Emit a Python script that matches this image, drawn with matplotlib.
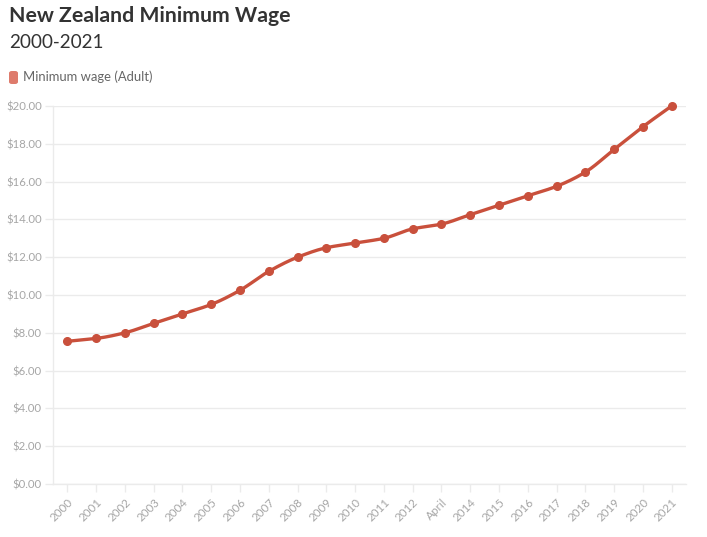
import numpy as np
import matplotlib
matplotlib.use("Agg")
import matplotlib.pyplot as plt
from matplotlib.patches import FancyBboxPatch

categories = ["2000", "2001", "2002", "2003", "2004", "2005", "2006", "2007", "2008", "2009",
              "2010", "2011", "2012", "April", "2014", "2015", "2016", "2017", "2018", "2019",
              "2020", "2021"]
wage = [7.55, 7.70, 8.00, 8.50, 9.00, 9.50, 10.25, 11.25, 12.00, 12.50,
        12.75, 13.00, 13.50, 13.75, 14.25, 14.75, 15.25, 15.75, 16.50, 17.70,
        18.90, 20.00]
y_ticks = [0, 2, 4, 6, 8, 10, 12, 14, 16, 18, 20]
series_name = "Minimum wage (Adult)"
title = "New Zealand Minimum Wage"
subtitle = "2000-2021"

plt.rcParams['font.family'] = ['Lato', 'DejaVu Sans']

LINE = "#c9503c"
SWATCH = "#de7b6c"
GRID = "#ebebeb"
TICKTXT = "#a6a6a6"


def monotone_curve(x, y, n=20):
    x = np.asarray(x, float)
    y = np.asarray(y, float)
    h = np.diff(x)
    d = np.diff(y) / h
    m = np.zeros_like(y)
    m[0] = d[0]
    m[-1] = d[-1]
    for i in range(1, len(y) - 1):
        if d[i - 1] * d[i] <= 0:
            m[i] = 0
        else:
            m[i] = 3 * (h[i - 1] + h[i]) / ((2 * h[i] + h[i - 1]) / d[i - 1] + (h[i] + 2 * h[i - 1]) / d[i])
    xs, ys = [], []
    for i in range(len(x) - 1):
        t = np.linspace(0, 1, n, endpoint=(i == len(x) - 2))
        h00 = 2 * t**3 - 3 * t**2 + 1
        h10 = t**3 - 2 * t**2 + t
        h01 = -2 * t**3 + 3 * t**2
        h11 = t**3 - t**2
        xs.append(x[i] + t * h[i])
        ys.append(h00 * y[i] + h10 * h[i] * m[i] + h01 * y[i + 1] + h11 * h[i] * m[i + 1])
    return np.concatenate(xs), np.concatenate(ys)


fig = plt.figure(figsize=(7.07, 5.37), dpi=100)
ax = fig.add_axes([53 / 707, 1 - 484 / 537, (686 - 53) / 707, (484 - 106) / 537])

xpos = np.arange(len(categories))
cx, cy = monotone_curve(xpos, wage)
ax.plot(cx, cy, color=LINE, lw=2.4, solid_capstyle='round', zorder=3, clip_on=False)
ax.plot(xpos, wage, 'o', color=LINE, ms=5.5, zorder=4, clip_on=False)

ax.set_xlim(-0.5, len(categories) - 0.5)
ax.set_ylim(0, 20)
ax.set_yticks(y_ticks)
ax.set_yticklabels([f"${v:.2f}" for v in y_ticks])
ax.set_xticks(xpos)
ax.set_xticklabels(categories, rotation=45, ha='right', rotation_mode='anchor')

ax.grid(axis='y', color=GRID, lw=1)
ax.set_axisbelow(True)
for s in ['top', 'right']:
    ax.spines[s].set_visible(False)
for s in ['left', 'bottom']:
    ax.spines[s].set_color(GRID)
    ax.spines[s].set_linewidth(1)
ax.tick_params(axis='y', colors=GRID, length=6, width=1, pad=2, labelsize=8.2, labelcolor=TICKTXT)
ax.tick_params(axis='x', colors=GRID, length=6, width=1, pad=3, labelsize=8.4, labelcolor=TICKTXT)

fig.text(9 / 707, 1 - 16 / 537, title, fontsize=15.3, fontweight='bold', color='#333333', va='center', ha='left')
fig.text(9 / 707, 1 - 42 / 537, subtitle, fontsize=13.6, color='#333333', va='center', ha='left')

sw = FancyBboxPatch((9 / 707, 1 - 84 / 537), 9 / 707, 13 / 537,
                    boxstyle="round,pad=0,rounding_size=0.004", transform=fig.transFigure,
                    facecolor=SWATCH, edgecolor='none')
fig.patches.append(sw)
fig.text(23 / 707, 1 - 77 / 537, series_name, fontsize=9.4, color='#666666', va='center', ha='left')

fig.savefig("out.png", dpi=100)
